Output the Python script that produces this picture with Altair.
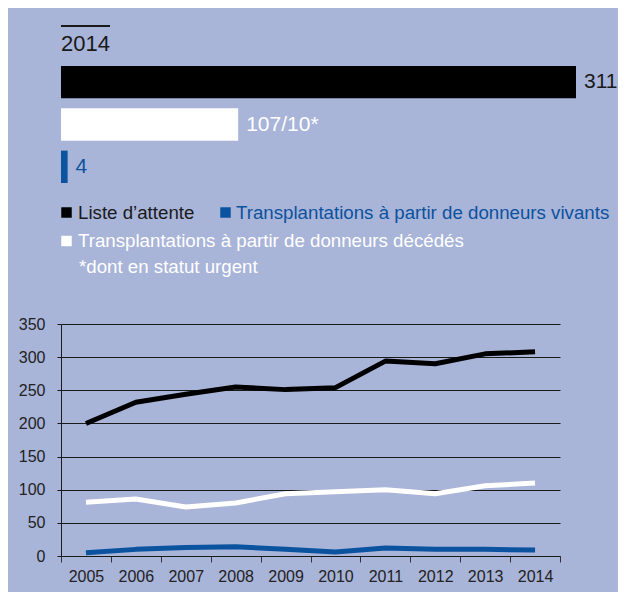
import altair as alt
import pandas as pd

# ---- data ----
years = ["2005", "2006", "2007", "2008", "2009", "2010", "2011", "2012", "2013", "2014"]
attente = [200, 232, 244, 255, 251, 254, 294, 290, 305, 308]
decedes = [81, 86, 74, 80, 94, 97, 100, 94, 106, 110]
vivants = [5, 10, 13, 14, 10, 6, 12, 10, 10, 9]

bar_cats = ["Liste d’attente", "Donneurs décédés", "Donneurs vivants"]
bar_values = [311, 107, 4]
bar_labels = ["311", "107/10*", "4"]

series_names = ["Liste d’attente",
                "Transplantations à partir de donneurs décédés",
                "Transplantations à partir de donneurs vivants"]
legend_vivants = "Transplantations à partir de donneurs vivants"
legend_decedes = "Transplantations à partir de donneurs décédés"
legend_attente = "Liste d’attente"
footnote = "*dont en statut urgent"
title_year = "2014"

BG = "#a8b4d8"
BLUE = "#0b529f"
DARK = "#1a1a1a"
FONT = "Liberation Sans"

bar_colors = ["#000000", "#ffffff", BLUE]
label_colors = [DARK, "#ffffff", BLUE]

# ---- top panel ----
bar_df = pd.DataFrame({"cat": bar_cats, "value": bar_values, "label": bar_labels,
                       "color": bar_colors, "lcolor": label_colors})

xs = alt.X("value:Q", scale=alt.Scale(domain=[0, 311], range=[0, 515]), axis=None)
ys = alt.Y("cat:N", sort=bar_cats,
           scale=alt.Scale(domain=bar_cats, range=[48, 165], paddingInner=0.235, paddingOuter=0),
           axis=None)

base = alt.Chart(bar_df)
bars = base.mark_bar().encode(x=xs, y=ys, color=alt.Color("color:N", scale=None))
bar_text = base.mark_text(align="left", baseline="middle", dx=8, fontSize=21, font=FONT).encode(
    x=xs, y=ys, text="label:N", color=alt.Color("lcolor:N", scale=None))

one = pd.DataFrame({"t": [0]})
year_rule = alt.Chart(one).mark_rule(strokeWidth=2, color=DARK).encode(
    x=alt.value(0), x2=alt.value(49), y=alt.value(8))
year_text = alt.Chart(one).mark_text(align="left", baseline="middle", fontSize=22, font=FONT,
                                     color=DARK, text=title_year).encode(
    x=alt.value(0), y=alt.value(26))

legend_layers = []
for txt, sq_color, txt_color, sx, tx, yy in [
    (legend_attente, "#000000", DARK, 5.5, 17, 194.5),
    (legend_vivants, BLUE, BLUE, 164.5, 175, 194.5),
    (legend_decedes, "#ffffff", "#ffffff", 5.5, 17, 223),
]:
    legend_layers.append(
        alt.Chart(one).mark_square(size=110, color=sq_color, opacity=1).encode(
            x=alt.value(sx), y=alt.value(yy)))
    legend_layers.append(
        alt.Chart(one).mark_text(align="left", baseline="middle", fontSize=18.7, font=FONT,
                                 color=txt_color, text=txt).encode(
            x=alt.value(tx), y=alt.value(yy)))
legend_layers.append(
    alt.Chart(one).mark_text(align="left", baseline="middle", fontSize=18.7, font=FONT,
                             color="#ffffff", text=footnote).encode(
        x=alt.value(18), y=alt.value(249)))

top = alt.layer(bars, bar_text, year_rule, year_text, *legend_layers).properties(
    width=556, height=262)

# ---- bottom panel ----
rows = []
for name, vals in zip(series_names, [attente, decedes, vivants]):
    for y, v in zip(years, vals):
        rows.append({"year": y, "value": v, "series": name})
line_df = pd.DataFrame(rows)

bottom = alt.Chart(line_df).mark_line(strokeWidth=5, strokeJoin="round").encode(
    x=alt.X("year:O", bandPosition=0.5,
            scale=alt.Scale(type="band", paddingInner=0, paddingOuter=0),
            axis=alt.Axis(title=None, labelAngle=0, grid=False, tickBand="extent",
                          tickSize=6, tickColor="#333333", domainColor=DARK,
                          labelFont=FONT, labelFontSize=16, labelColor="#222222",
                          labelPadding=6)),
    y=alt.Y("value:Q", scale=alt.Scale(domain=[0, 350]),
            axis=alt.Axis(title=None, values=[0, 50, 100, 150, 200, 250, 300, 350],
                          grid=True, gridColor=DARK, gridWidth=1, gridOpacity=1,
                          tickSize=4, tickColor=DARK, domainColor=DARK,
                          labelFont=FONT, labelFontSize=16, labelColor="#222222",
                          labelPadding=12)),
    color=alt.Color("series:N", scale=alt.Scale(domain=series_names,
                                                range=["#000000", "#ffffff", BLUE]),
                    legend=None),
).properties(width=499, height=232)

chart = alt.vconcat(top, bottom, spacing=44, bounds="flush").properties(
    padding={"left": 10, "top": 10, "right": 0, "bottom": 8},
    background=BG,
).configure_view(stroke=None)

chart.save("out.html", embed_options={"renderer": "svg", "actions": False})
